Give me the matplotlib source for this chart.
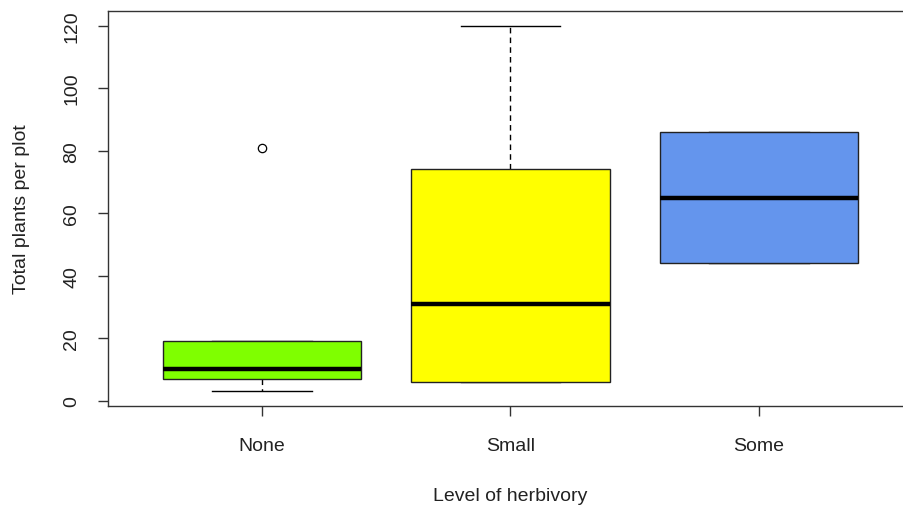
import matplotlib
matplotlib.use("Agg")
import matplotlib.pyplot as plt

plt.rcParams["font.family"] = ["Liberation Sans", "DejaVu Sans"]

# box statistics
groups   = ["None", "Small", "Some"]
whis_lo  = [3, 6, 44]
q1       = [7, 6, 44]
medians  = [10, 31, 65]
q3       = [19, 74, 86]
whis_hi  = [19, 120, 86]
outliers = [[81], [], []]
colors   = ["#7FFF00", "#FFFF00", "#6495ED"]

stats = [
    dict(label=g, whislo=lo, q1=a, med=m, q3=b, whishi=hi, fliers=f)
    for g, lo, a, m, b, hi, f in zip(groups, whis_lo, q1, medians, q3, whis_hi, outliers)
]

fig = plt.figure(figsize=(9.04, 5.10), dpi=100)
ax = fig.add_axes([108 / 904, 1 - 407 / 510, (913 - 108) / 904, (407 - 12) / 510])

bp = ax.bxp(stats, positions=[1, 2, 3], widths=0.8, patch_artist=True,
            boxprops=dict(edgecolor="#222222", linewidth=1.0, zorder=3),
            medianprops=dict(color="black", linewidth=3.2, solid_capstyle="butt", zorder=4),
            whiskerprops=dict(color="black", linestyle=(0, (4, 3)), linewidth=1.0, zorder=2),
            capprops=dict(color="black", linewidth=1.0, zorder=2),
            capwidths=0.4,
            flierprops=dict(marker="o", markersize=6, markerfacecolor="none",
                            markeredgecolor="black", markeredgewidth=0.9))
for patch, c in zip(bp["boxes"], colors):
    patch.set_facecolor(c)

ax.set_xlim(0.38, 3.62)
ax.set_ylim(-1.68, 124.68)
ax.set_yticks([0, 20, 40, 60, 80, 100, 120])
ax.set_xticks([1, 2, 3])
ax.set_xticklabels(groups)

for side in ["left", "bottom", "top", "right"]:
    ax.spines[side].set_color("#333333")
    ax.spines[side].set_linewidth(1.0)

ax.tick_params(axis="both", length=7, width=1.0, color="#333333", labelsize=14,
               labelcolor="#222222")
ax.tick_params(axis="x", pad=15)
ax.tick_params(axis="y", pad=13)
for lbl in ax.get_yticklabels():
    lbl.set_rotation(90)
    lbl.set_va("center")

ax.set_xlabel("Level of herbivory", fontsize=14, color="#222222", labelpad=24)
ax.set_ylabel("Total plants per plot", fontsize=14, color="#222222", labelpad=24)

fig.savefig("out.png", dpi=100)
